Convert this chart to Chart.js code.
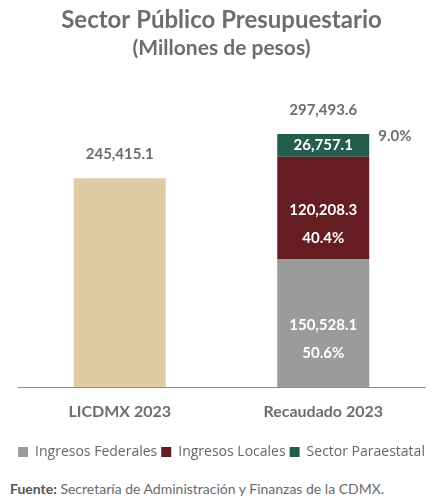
<!DOCTYPE html>
<html>
<head>
<meta charset="utf-8">
<script src="https://cdn.jsdelivr.net/npm/chart.js@4.4.1/dist/chart.umd.min.js"></script>
<style>
  body { margin: 0; background: #fff; }
  #caja { position: relative; width: 443px; height: 500px; }
  #fuente { position: absolute; left: 10px; top: 480px; font: 14px Lato, sans-serif; color: #6a6a6a; white-space: nowrap; }
  #fuente b { color: #555; }
</style>
</head>
<body>
<div id="caja">
  <canvas id="grafico" width="443" height="469"></canvas>
  <div id="fuente"><b>Fuente:</b> Secretaría de Administración y Finanzas de la CDMX.</div>
</div>
<script>
// datos (millones de pesos)
var categorias   = ['LICDMX 2023', 'Recaudado 2023'];
var licdmx       = [245415.1, null];
var federales    = [null, 150528.1];
var locales      = [null, 120208.3];
var paraestatal  = [null, 26757.1];
var totales      = [245415.1, 297493.6];
var porcentajes  = { federales: '50.6%', locales: '40.4%', paraestatal: '9.0%' };

var gris = '#6d6d6d';
var fuente = 'Lato, sans-serif';

function fmt(v) {
  return v.toLocaleString('en-US', { minimumFractionDigits: 1, maximumFractionDigits: 1 });
}

// Etiquetas sobre y dentro de las barras
var etiquetas = {
  id: 'etiquetas',
  afterDatasetsDraw: function(chart) {
    var ctx = chart.ctx;
    ctx.save();
    ctx.textAlign = 'center';
    ctx.textBaseline = 'middle';
    ctx.font = 'bold 15px ' + fuente;
    chart.data.datasets.forEach(function(ds, i) {
      var meta = chart.getDatasetMeta(i);
      meta.data.forEach(function(bar, j) {
        var v = ds.data[j];
        if (v == null) return;
        var centro = (bar.y + bar.base) / 2;
        if (ds.clave == 'licdmx') {
          ctx.fillStyle = gris;
          ctx.fillText(fmt(v), bar.x, bar.y - 24);
        } else if (ds.clave == 'paraestatal') {
          ctx.fillStyle = '#fff';
          ctx.fillText(fmt(v), bar.x, centro);
          ctx.fillStyle = gris;
          ctx.textAlign = 'left';
          ctx.fillText(porcentajes[ds.clave], bar.x + bar.width / 2 + 9, bar.y + 2);
          ctx.textAlign = 'center';
          ctx.fillText(fmt(totales[j]), bar.x, bar.y - 24);
        } else {
          ctx.fillStyle = '#fff';
          ctx.fillText(fmt(v), bar.x, centro + 2);
          ctx.fillText(porcentajes[ds.clave], bar.x, centro + 30);
        }
      });
    });
    ctx.restore();
  }
};

function anchoFijo(s) { s.width = 18; }

var ctx = document.getElementById('grafico').getContext('2d');
var grafico = new Chart(ctx, {
  type: 'bar',
  data: {
    labels: categorias,
    datasets: [
      { clave: 'licdmx', label: 'LICDMX', data: licdmx, backgroundColor: '#dfcba4' },
      { clave: 'federales', label: 'Ingresos Federales', data: federales, backgroundColor: '#9b9b9b' },
      { clave: 'locales', label: 'Ingresos Locales', data: locales, backgroundColor: '#661d22' },
      { clave: 'paraestatal', label: 'Sector Paraestatal', data: paraestatal, backgroundColor: '#245c4e' }
    ]
  },
  options: {
    responsive: false,
    animation: false,
    layout: { padding: 0 },
    datasets: { bar: { categoryPercentage: 1, barPercentage: 0.452 } },
    scales: {
      x: {
        stacked: true,
        grid: { display: false, drawTicks: false },
        border: { display: true, color: '#8c8c8c', width: 1 },
        ticks: { color: gris, padding: 15, font: { family: fuente, size: 16, weight: 'bold' } },
        afterFit: function(s) { s.height = 54; }
      },
      y: {
        stacked: true,
        min: 0,
        max: 371600,
        grid: { display: false, drawTicks: false },
        border: { display: false },
        ticks: { display: false },
        afterFit: anchoFijo
      },
      y2: {
        position: 'right',
        min: 0,
        max: 371600,
        grid: { display: false, drawTicks: false },
        border: { display: false },
        ticks: { display: false },
        afterFit: anchoFijo
      }
    },
    plugins: {
      title: {
        display: true,
        text: 'Sector Público Presupuestario',
        color: gris,
        font: { family: fuente, size: 24, weight: 'bold' },
        padding: { top: 6, bottom: 1 }
      },
      subtitle: {
        display: true,
        text: '(Millones de pesos)',
        color: gris,
        font: { family: fuente, size: 21, weight: 'bold' },
        padding: { top: 0, bottom: 10 }
      },
      legend: {
        position: 'bottom',
        labels: {
          color: '#666',
          boxWidth: 10,
          boxHeight: 10,
          padding: 4,
          font: { family: 'Open Sans', size: 14 },
          filter: function(item) { return item.text != 'LICDMX'; }
        }
      },
      tooltip: { enabled: false }
    }
  },
  plugins: [etiquetas]
});
</script>
</body>
</html>
